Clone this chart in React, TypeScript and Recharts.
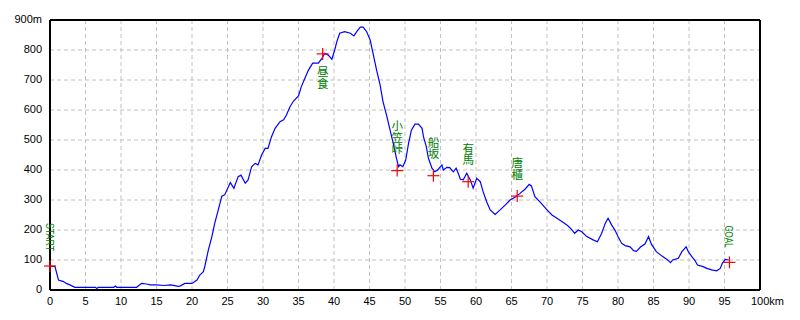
import React from "react";
import {
  ComposedChart,
  Line,
  XAxis,
  YAxis,
  CartesianGrid,
  ReferenceLine,
  ReferenceDot,
} from "recharts";

const kmValues = [
  0, 0.7, 1.2, 1.9, 2.3, 2.8, 3.5, 6.4, 6.6, 6.8, 9.0, 9.2, 9.4, 12.2, 12.9, 13.6, 14.1, 15.0, 16.0, 17.0, 18.1, 18.3, 19.0,
  20.0, 20.7, 21.1, 21.6, 21.8, 22.3, 22.8, 23.2, 23.7, 24.2, 24.6, 25.4, 25.9, 26.5, 26.9, 27.5, 27.9, 28.4,
  28.9, 29.3, 29.8, 30.3, 30.7, 31.2, 31.7, 32.4, 32.9, 33.3, 33.8, 34.3, 35.0, 35.4, 35.9, 36.4, 37.0, 37.8,
  38.3, 38.7, 39.2, 39.7, 40.1, 40.4, 40.8, 41.5, 42.3, 42.8, 43.2, 43.7, 44.1, 44.6, 45.1, 45.5, 46.0, 46.5,
  46.9, 47.4, 47.9, 48.4, 48.8, 49.1, 49.3, 49.7, 50.1, 50.5, 50.9, 51.4, 51.9, 52.4, 52.6, 53.0, 53.3, 53.8,
  54.2, 54.6, 55.2, 55.4, 55.9, 56.3, 56.8, 57.2, 57.5, 57.8, 58.2, 58.7, 59.2, 59.6, 60.1, 60.6, 61.0, 61.5,
  62.0, 62.7, 63.4, 64.1, 64.8, 65.5, 66.2, 66.9, 67.5, 67.8, 68.3, 69.0, 70.0, 70.7, 71.4, 72.1, 72.8, 73.3,
  73.9, 74.4, 74.9, 75.6, 76.5, 77.1, 77.7, 78.2, 78.6, 79.1, 79.6, 80.0, 80.5, 81.0, 81.7, 82.2, 82.6, 83.2,
  83.8, 84.3, 84.7, 85.4, 86.2, 86.9, 87.4, 87.7, 88.5, 89.0, 89.6, 89.9, 90.4, 90.8, 91.2, 92.0, 92.5, 93.2,
  93.9, 94.4, 94.7, 95.1, 95.6,
];

const elevValues = [
  80, 78, 33, 28, 22, 17, 9, 9, 5, 9, 9, 13, 9, 9, 22, 20, 17, 17, 15, 17, 12, 13, 22,
  22, 33, 50, 61, 78, 133, 178, 222, 267, 313, 317, 358, 339, 378, 383, 356, 367, 411,
  422, 417, 450, 472, 472, 511, 539, 561, 567, 583, 611, 630, 647, 678, 706, 733, 756, 756,
  772, 789, 783, 769, 800, 828, 856, 861, 856, 847, 861, 876, 876, 861, 833, 789, 733, 683,
  628, 583, 533, 483, 439, 411, 417, 411, 433, 489, 533, 553, 553, 539, 511, 478, 439, 406,
  394, 400, 417, 400, 409, 408, 394, 406, 389, 369, 367, 389, 367, 339, 372, 361, 328, 294,
  267, 252, 267, 283, 300, 309, 322, 336, 352, 347, 311, 294, 267, 250, 239, 228, 217, 206,
  189, 200, 194, 178, 167, 161, 189, 222, 239, 217, 198, 178, 156, 148, 144, 131, 129, 144,
  153, 178, 153, 128, 113, 102, 91, 100, 106, 128, 144, 128, 111, 100, 83, 78, 72, 67,
  64, 72, 89, 102, 100,
];

const xTicks = [0, 5, 10, 15, 20, 25, 30, 35, 40, 45, 50, 55, 60, 65, 70, 75, 80, 85, 90, 95, 100];
const yTicks = [0, 100, 200, 300, 400, 500, 600, 700, 800, 900];

const pointNames = ["START", "昼食", "小笠峠", "船坂", "有馬", "唐櫃", "GOAL"];
const pointKm = [0, 38.4, 48.9, 54.0, 58.9, 65.8, 95.7];
const pointElev = [80, 787, 398, 381, 361, 313, 92];
const pointStyle = ["rotated", "below", "above", "above", "above", "above", "rotated"];

const profile = kmValues.map((km, i) => ({ km, m: elevValues[i] }));

const FONT = "'Liberation Sans', Arial, sans-serif";
const JFONT = "'Noto Sans CJK JP', sans-serif";

const XTick = (props: any) => {
  const { x, y, payload } = props;
  const v = payload.value;
  if (v === 100) {
    return (
      <text x={x - 9} y={y + 4} fontSize={11} fontFamily={FONT} fill="#000" textAnchor="start" dominantBaseline="middle">
        100km
      </text>
    );
  }
  return (
    <text x={x} y={y + 4} fontSize={11} fontFamily={FONT} fill="#000" textAnchor="middle" dominantBaseline="middle">
      {v}
    </text>
  );
};

const YTick = (props: any) => {
  const { x, y, payload } = props;
  const v = payload.value;
  return (
    <text x={x} y={y} fontSize={11} fontFamily={FONT} fill="#000" textAnchor="end" dominantBaseline="middle">
      {v === 900 ? "900m" : v}
    </text>
  );
};

const makeShape = (name: string, style: string) => (props: any) => {
  const { cx, cy } = props;
  const cross = (
    <g>
      <line x1={cx - 6} y1={cy} x2={cx + 6} y2={cy} stroke="#ff0000" strokeWidth={1.2} />
      <line x1={cx} y1={cy - 6} x2={cx} y2={cy + 6} stroke="#ff0000" strokeWidth={1.2} />
    </g>
  );
  let label: React.ReactNode = null;
  if (style === "rotated") {
    const ly = cy - (name === "START" ? 29 : 26);
    label = (
      <text
        x={cx}
        y={ly}
        fontSize={11}
        fontFamily={FONT}
        fill="#008000"
        textAnchor="middle"
        dominantBaseline="central"
        textLength={name === "START" ? 28 : 22}
        lengthAdjust="spacingAndGlyphs"
        transform={`rotate(90, ${cx}, ${ly})`}
      >
        {name}
      </text>
    );
  } else {
    const n = Array.from(name).length;
    const fs = 11.5;
    const top = style === "below" ? cy + 12 : cy - 16 - n * fs;
    label = (
      <text
        x={cx}
        y={top}
        fontSize={fs}
        fontFamily={JFONT}
        fill="#008000"
        textAnchor="start"
        style={{ writingMode: "vertical-rl" as any }}
      >
        {name}
      </text>
    );
  }
  return (
    <g>
      {label}
      {cross}
    </g>
  );
};

export default function App() {
  return (
    <div style={{ position: "absolute", left: 0, top: 0, width: 800, height: 320, background: "#fff" }}>
      <ComposedChart width={800} height={320} data={profile} margin={{ top: 20, right: 40, bottom: 0, left: 0 }}>
        <CartesianGrid stroke="#c0c0c0" strokeDasharray="4 3" horizontalValues={yTicks} verticalValues={xTicks} />
        <XAxis
          dataKey="km"
          type="number"
          domain={[0, 100]}
          ticks={xTicks}
          interval={0}
          height={30}
          tickLine={false}
          axisLine={{ stroke: "#000", strokeWidth: 2 }}
          tick={<XTick />}
        />
        <YAxis
          type="number"
          domain={[0, 900]}
          ticks={yTicks}
          interval={0}
          width={50}
          tickLine={false}
          axisLine={{ stroke: "#000", strokeWidth: 2 }}
          tick={<YTick />}
        />
        <ReferenceLine y={900} stroke="#000" strokeWidth={2} />
        <ReferenceLine x={100} stroke="#000" strokeWidth={2} />
        <Line
          dataKey="m"
          type="linear"
          stroke="#0000ff"
          strokeWidth={1.2}
          dot={false}
          activeDot={false}
          isAnimationActive={false}
        />
        {pointNames.map((n, i) => (
          <ReferenceDot
            key={n}
            x={pointKm[i]}
            y={pointElev[i]}
            r={6}
            ifOverflow="visible"
            shape={makeShape(n, pointStyle[i])}
          />
        ))}
      </ComposedChart>
    </div>
  );
}
